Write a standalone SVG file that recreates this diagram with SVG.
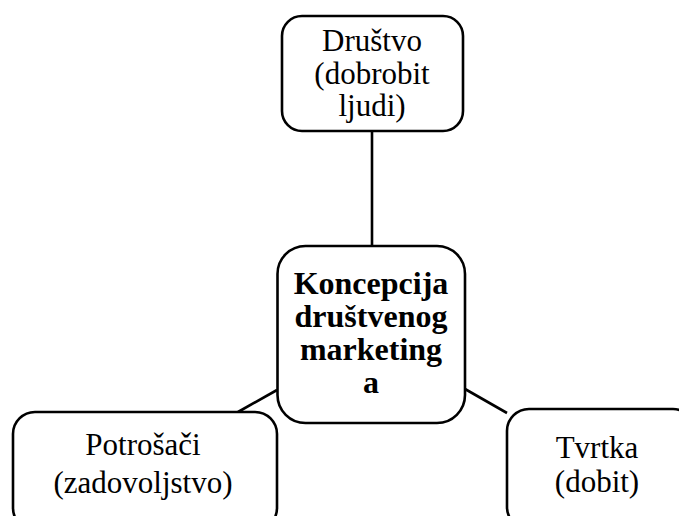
<svg xmlns="http://www.w3.org/2000/svg" width="679" height="516" viewBox="0 0 679 516">
<style>
.box{fill:#fff;stroke:#000;stroke-width:2.6}
.ln{stroke:#000;stroke-width:2.6;fill:none}
.t{font-family:"Liberation Serif","Times New Roman",serif;font-size:31px;fill:#000;text-anchor:middle}
.b{font-family:"Liberation Serif","Times New Roman",serif;font-size:32px;font-weight:bold;fill:#000;text-anchor:middle}
</style>
<rect width="679" height="516" fill="#fff"/>
<g id="connectors">
<line class="ln" x1="372" y1="131" x2="372" y2="246"/>
<line class="ln" x1="277" y1="390" x2="238" y2="412"/>
<line class="ln" x1="465" y1="389" x2="507" y2="413"/>
</g>
<g id="drustvo">
<rect class="box" x="282" y="16" width="181" height="115" rx="20"/>
<text class="t" x="372" y="51">Društvo</text>
<text class="t" x="372" y="84">(dobrobit</text>
<text class="t" x="372" y="116">ljudi)</text>
</g>
<g id="koncepcija">
<rect class="box" x="277.5" y="246" width="187.5" height="177" rx="28"/>
<text class="b" x="371" y="294">Koncepcija</text>
<text class="b" x="371" y="327">društvenog</text>
<text class="b" x="371" y="360">marketing</text>
<text class="b" x="371" y="393">a</text>
</g>
<g id="potrosaci">
<rect class="box" x="13" y="412" width="264" height="118" rx="22"/>
<text class="t" x="143" y="455">Potrošači</text>
<text class="t" x="143" y="493">(zadovoljstvo)</text>
</g>
<g id="tvrtka">
<rect class="box" x="507" y="409" width="188" height="120" rx="22"/>
<text class="t" x="597" y="458">Tvrtka</text>
<text class="t" x="597" y="492">(dobit)</text>
</g>
</svg>
